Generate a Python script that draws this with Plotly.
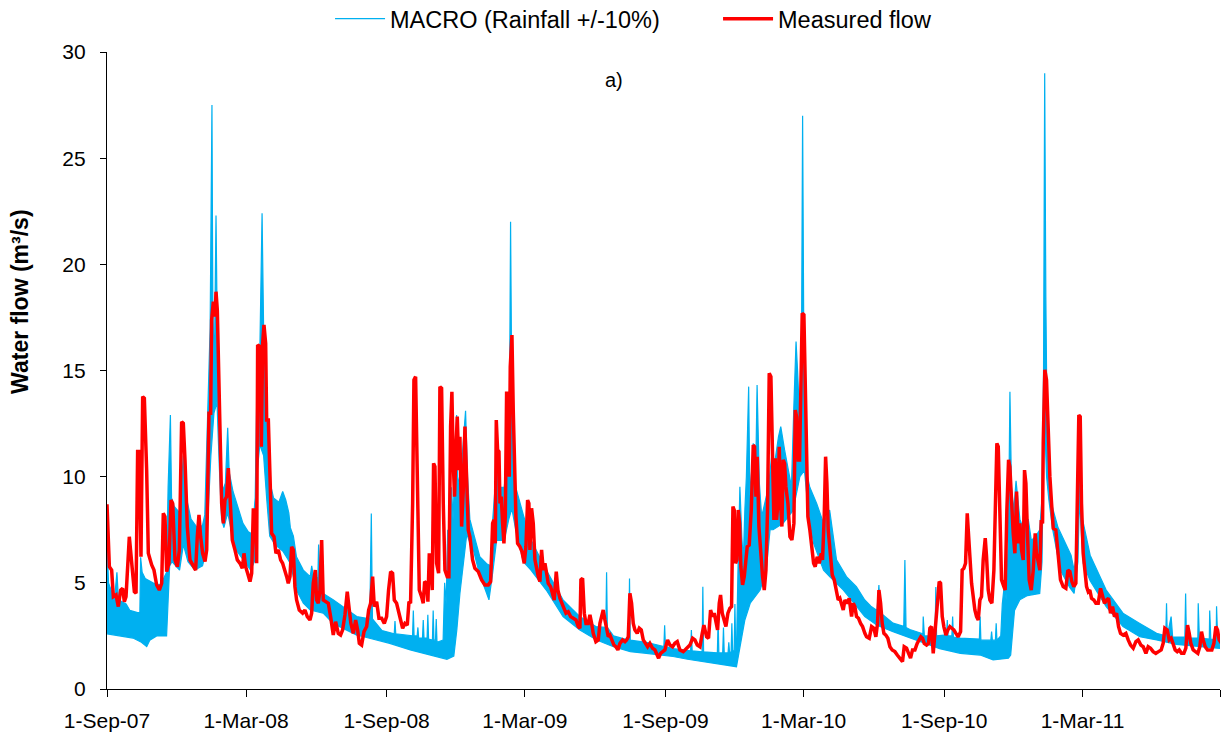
import pandas as pd
import plotly.graph_objects as go

START = pd.Timestamp("2007-09-01")
END = pd.Timestamp("2011-08-28")

# Measured flow (m3/s), sampled at days since 1 Sep 2007
meas_day = [
    0, 3.1, 6.1, 8.3, 11.8, 14.8, 17.9, 20.5, 22.7, 24.9, 29.2, 32.3, 35.8, 38, 40.1, 42.3, 44.5, 46.7, 48.9, 51.9,
    54.1, 58.5, 61.5, 65, 68.5, 71.6, 73.7, 75.9, 78.1, 81.1, 83.8, 86, 89, 92.1, 94.7, 97.7, 99.9, 102.1, 105.1, 108.6,
    113, 116, 118.2, 120.4, 122.6, 125.2, 128.3, 130.5, 133.5, 135.7, 137, 139.2, 141.4, 142.7, 144.4, 146.2, 147.9,
    150.1, 152.3, 154.4, 156.6, 158.8, 161, 164, 167.5, 170.6, 174.1, 177.1, 179.3, 181.5, 184.1, 187.2, 189.4, 191.5,
    193.7, 195.9, 197.2, 200.3, 202, 203.8, 205.5, 207.7, 209, 211.2, 213.4, 215.5, 218.6, 221.2, 224.3, 227.3, 229.9,
    233, 235.2, 237.3, 239.5, 241.7, 243.9,
    246, 248.2, 251.7, 256.1, 259.1, 262.2, 265.7, 267.9, 270, 272.7, 274.4, 276.6, 278.8, 281, 283.1, 286.2, 289.7,
    292.7, 296.2, 299.3, 302.8, 305.8, 308.4, 311.5, 314.5, 317.2, 319.3, 322.4, 325.5, 328.1, 330.3, 333.3, 336.4,
    339.9, 342.5, 345.1, 347.7, 349.9, 353, 356, 359.5, 363, 366, 368.6, 371.3, 373.9, 376.1, 379.1, 382.2, 384.8, 387,
    390, 393.1, 395.3, 397.4, 400.1, 401.8, 404, 406.2, 408.8, 411.8, 414, 415.8, 418.4, 420.1, 421.9, 423.6, 425.8,
    427.5, 429.3, 431.5, 434.1, 435.8, 438, 440.2, 442.4, 445.4, 447.6, 449.8, 451.5, 453.3, 455, 456.8, 458.5, 460.7,
    462, 464.2, 466.4, 468.6, 470.7, 472.9, 475.1, 478.6, 481.6, 486, 490.4,
    494.7, 499.1, 502.2, 504.8, 506.5, 508.3, 509.6, 511.3, 513.1, 514.4, 516.1, 517.9, 519.6, 521.4, 523.1, 524.9,
    526.6, 527.9, 530.1, 531.8, 533.6, 535.3, 537.5, 540.6, 543.2, 546.2, 548.4, 550.6, 552.3, 553.6, 555.8, 558,
    560.2, 562.4, 564.6, 566.7, 568.9, 571.1, 573.3, 575.5, 577.6, 580.7, 583.3, 585.5, 588.1, 590.3, 592.9, 595.5,
    598.2, 600.8, 603.8, 606.9, 610.4, 613.9, 616.9, 619.1, 620.4, 622.6, 624.8, 627, 630, 632.2, 634.4, 636.5, 640,
    643.1, 645.3, 647.5, 649.6, 651.8, 654, 656.2, 658.4, 661, 663.6, 666.2, 668.8, 671.5, 674.9, 678, 680.2, 682.4,
    684.5, 686.7, 688.9, 691.1, 694.1, 696.8, 699.4, 702, 704.6, 707.7, 710.7, 714.2, 717.3, 719.4, 722.1, 724.7,
    727.3, 730.3, 733.8, 736.9, 740.4,
    743.4, 746.5, 750, 754.4, 758.7, 763.1, 766.6, 769.6, 772.7, 776.2, 779.2, 781.4, 784.9, 787.5, 790.1, 792.7,
    794.9, 797.1, 799.3, 801.5, 803.2, 805.4, 807.6, 810.2, 812.8, 815.4, 817.6, 819.4, 821.1, 822.8, 824.6, 826.3,
    828.1, 829.8, 832, 834.2, 836.4, 838.1, 840.7, 843.4, 846, 847.7, 849.5, 851.2, 853.4, 855.6, 858.2, 860.4, 862.6,
    864.7, 866.9, 869.1, 871.3, 873, 874.8, 876.5, 878.3, 880, 881.8, 883.5, 885.2, 887, 888.7, 891.4, 894, 896.6,
    899.2, 901, 902.7, 904.9, 906.6, 908.4, 910.1, 912.3, 914, 915.8, 917.5, 920.1, 922.8, 925, 927.1, 929.7, 932.4,
    935, 936.7, 938.9, 940.7, 942.4, 944.1, 946.3, 949.4, 952, 955.1, 957.2, 959.4, 961.2, 963.8, 966, 969, 971.6,
    974.7, 976.9, 979, 981.2, 983.8, 986.5, 989.1, 992.1,
    994.3, 997.8, 1000.9, 1003.9, 1006.5, 1008.7, 1010.5, 1012.7, 1014.8, 1017, 1019.6, 1022.2, 1024.9, 1027.9,
    1031.4, 1034.5, 1038, 1041.4, 1043.6, 1046.7, 1049.3, 1051.9, 1054.5, 1057.6, 1060.6, 1063.3, 1065.4, 1067.6,
    1069.8, 1072.9, 1075.5, 1077.2, 1079.4, 1081.6, 1083.8, 1086.8, 1089.4, 1091.2, 1093.4, 1095.5, 1098.2, 1100.8,
    1103.4, 1106, 1108.6, 1111.3, 1114.3, 1117.4, 1119.5, 1121.7, 1123.9, 1126.1, 1127.8, 1129.6, 1131.8, 1133.9,
    1136.1, 1138.3, 1140.5, 1142.7, 1144.8, 1147, 1149.7, 1151.4, 1153.6, 1155.8, 1158.4, 1161, 1162.7, 1164.9,
    1166.7, 1168.9, 1171, 1174.1, 1175.8, 1178, 1180.2, 1181.9, 1184.1, 1186.3, 1188.5, 1190.7, 1192.8, 1195,
    1197.2, 1199.4, 1201.1, 1202.9, 1205.1, 1207.2, 1209.9, 1212.5, 1215.1, 1216.8, 1219.5, 1221.2, 1223, 1224.7,
    1225.6, 1227.7, 1229.9, 1232.1, 1234.3, 1236.5, 1238.7, 1242.1, 1245.2, 1248.2, 1251.7, 1255.2, 1257.9, 1260.5,
    1263.1, 1265.7, 1268.3, 1270.5, 1272.2, 1274, 1275.7, 1277.9, 1280.1, 1282.3, 1284.5, 1286.6, 1288.8, 1291.9,
    1294.5, 1297.6, 1300.6, 1303.2, 1305.8, 1308.5, 1311.1, 1313.7, 1316.3, 1318.9, 1321.6, 1324.2, 1326.8, 1330.3,
    1333.8, 1336.8, 1339.9, 1343.4, 1346.9, 1349.9, 1353.4, 1356.5, 1360, 1363, 1366.1, 1369.5, 1373, 1376.5, 1380,
    1382.6, 1384.8, 1387.9, 1390.5, 1393.1, 1395.7, 1398.3, 1401, 1403.6, 1406.6, 1409.7, 1412.3, 1414.5, 1416.7,
    1418.8, 1421.9, 1424.9, 1428, 1430.6, 1432.8, 1435, 1437.6, 1440.7, 1443.7, 1446.3, 1449, 1451.6, 1453.8, 1455.9,
    1459,
]
meas_flow = [
    8.7, 5.76, 5.6, 4.35, 4.43, 3.88, 4.66, 4.74, 4.11, 4.35, 7.17, 5.92, 4.58, 4.51, 11.18, 11.18, 6.23, 13.77, 13.69,
    10.31, 6.39, 5.84, 5.6, 4.9, 4.66, 4.98, 8.27, 8.12, 5.53, 5.92, 8.9, 8.74, 6.08, 5.76, 6.55, 12.59, 12.51, 10.79,
    7.65, 6.08, 5.76, 5.6, 7.17, 8.2, 7.17, 6.39, 6.0, 6.55, 12.99, 12.99, 17.38, 18.24, 17.54, 18.71, 17.85, 14.56,
    11.26, 8.74, 7.8, 8.9, 9.06, 10.4, 9.06, 7.02, 6.55, 6.08, 5.92, 5.68, 6.39, 5.76, 5.45, 5.06, 5.45, 8.43, 8.43,
    5.92, 16.2, 16.13, 11.41, 16.28, 17.15, 16.28, 12.67, 12.67, 10.0, 7.33, 7.17, 6.39, 6.55, 6.08, 5.92, 5.6, 5.29,
    4.98, 5.29, 6.7, 6.55,
    4.82, 4.19, 3.72, 3.57, 3.72, 3.41, 3.25, 3.57, 4.98, 5.6, 4.19, 4.04, 4.66, 7.02, 4.19, 4.11, 4.04, 3.41, 2.54,
    3.17, 2.62, 2.54, 2.78, 3.49, 4.58, 3.72, 3.09, 2.62, 3.25, 2.78, 2.15, 2.07, 2.7, 2.94, 3.72, 4.04, 5.29, 3.88,
    4.11, 3.33, 3.33, 3.09, 3.41, 4.66, 5.53, 5.45, 4.19, 4.04, 3.57, 3.25, 2.86, 3.09, 3.01, 4.11, 4.04, 8.74, 14.56,
    14.71, 9.06, 4.66, 4.35, 4.04, 5.06, 4.98, 4.11, 6.39, 6.08, 4.66, 10.63, 10.47, 5.92, 5.45, 14.24, 14.16, 8.74,
    5.6, 5.29, 5.29, 12.36, 14.0, 10.63, 9.06, 11.26, 12.83, 10.31, 11.88, 7.65, 9.37, 12.36, 10.31, 7.49, 7.17, 6.08,
    5.68, 5.53, 5.14,
    4.9, 4.9, 5.06, 7.8, 7.96, 6.86, 12.67, 11.26, 11.18, 8.74, 9.06, 7.8, 6.86, 8.12, 13.93, 13.93, 10.0, 15.18,
    16.67, 13.14, 9.69, 8.12, 6.86, 6.7, 6.47, 5.92, 6.7, 8.9, 8.74, 6.55, 8.51, 7.8, 6.08, 5.6, 5.29, 5.06, 6.55, 5.6,
    5.92, 5.45, 4.98, 4.82, 4.43, 4.19, 5.53, 4.66, 4.27, 4.04, 3.8, 3.57, 3.64, 3.41, 3.33, 3.25, 2.94, 2.86, 5.14,
    5.21, 3.57, 3.09, 3.09, 3.49, 3.09, 2.62, 2.23, 2.31, 3.09, 3.41, 3.72, 3.25, 2.78, 2.46, 2.54, 2.31, 2.07, 1.99,
    1.84, 2.15, 2.31, 2.23, 2.31, 2.46, 4.51, 4.04, 3.09, 2.78, 2.62, 2.86, 2.78, 2.31, 2.15, 1.99, 2.15, 1.92, 1.84,
    1.68, 1.45, 1.68, 1.76, 1.84, 2.31, 2.07, 1.99,
    2.15, 2.23, 1.84, 1.76, 1.92, 2.07, 2.39, 2.31, 2.07, 1.99, 2.62, 3.01, 2.46, 2.39, 3.72, 3.41, 3.57, 3.09, 2.78,
    4.04, 4.43, 3.57, 3.25, 2.94, 3.57, 3.8, 3.88, 8.59, 8.43, 5.92, 6.08, 8.43, 7.8, 5.76, 4.9, 5.29, 6.08, 6.7, 6.78,
    8.43, 11.49, 11.41, 9.06, 10.94, 7.65, 6.39, 5.29, 4.66, 5.6, 8.43, 14.87, 14.71, 10.94, 7.96, 10.87, 7.96, 8.74,
    11.41, 8.74, 7.65, 10.79, 10.63, 9.53, 8.74, 7.17, 7.02, 7.8, 13.14, 12.83, 10.79, 10.79, 15.03, 17.69, 17.62,
    15.03, 10.94, 8.12, 7.49, 6.7, 5.92, 5.76, 6.23, 5.92, 6.39, 6.08, 8.12, 10.94, 9.69, 7.49, 6.55, 5.37, 5.14, 4.66,
    4.19, 4.27, 4.04, 3.72, 4.19, 4.04, 4.27, 3.41, 4.04, 3.88, 3.41, 3.33, 3.09, 2.94, 2.62,
    2.46, 2.39, 2.94, 2.86, 2.46, 3.09, 4.66, 4.04, 3.09, 2.62, 2.54, 2.39, 1.99, 1.84, 1.76, 1.6, 1.45, 1.29, 1.99,
    1.92, 1.68, 1.45, 1.84, 1.84, 2.15, 2.31, 2.46, 2.39, 2.15, 2.07, 2.15, 2.86, 2.94, 1.68, 2.62, 3.72, 5.06, 4.98,
    3.41, 2.94, 2.54, 2.78, 2.94, 2.86, 2.78, 2.62, 2.46, 2.7, 5.6, 5.68, 5.92, 8.27, 7.49, 6.23, 4.98, 4.19, 3.72,
    3.41, 3.25, 4.19, 4.35, 6.08, 7.1, 6.23, 4.66, 4.19, 4.04, 5.6, 8.43, 11.57, 11.41, 7.17, 5.14, 4.82, 4.66, 8.43,
    10.79, 10.47, 8.43, 7.33, 6.39, 9.3, 6.86, 7.8, 6.55, 6.08, 10.31, 9.69, 7.17, 5.14, 4.66, 5.6, 7.33, 6.39, 5.92,
    5.6, 7.96, 7.8,
    11.57, 15.03, 14.56, 11.88, 10.0, 8.74, 7.57, 7.49, 6.08, 5.14, 4.82, 4.74, 5.6, 5.53, 5.06, 4.82, 4.98, 9.53,
    12.9, 12.83, 8.74, 6.39, 5.45, 4.82, 4.58, 4.66, 4.27, 4.19, 4.04, 4.04, 4.74, 4.43, 4.04, 4.19, 4.27, 3.57, 3.88,
    3.41, 3.57, 2.94, 2.62, 2.54, 2.62, 2.31, 2.07, 1.92, 2.23, 2.31, 2.07, 1.99, 1.68, 1.99, 1.92, 1.76, 1.68, 1.76,
    1.84, 2.15, 2.86, 2.78, 2.31, 2.39, 2.07, 1.84, 1.76, 1.84, 1.68, 1.68, 1.92, 3.01, 2.62, 2.15, 1.84, 1.76, 1.68,
    1.99, 2.7, 2.31, 1.99, 1.84, 1.84, 1.84, 2.15, 2.94, 2.78, 2.31, 2.15,
]

# MACRO simulations with rainfall +/-10%: lower and upper bound of the run ensemble
macro_lo_day = [
    0, 20, 34, 45, 52, 56, 65, 78, 80, 82, 85, 95, 100, 106, 115, 125, 130, 133, 136, 140, 144, 147, 150, 153, 158,
    163, 170, 180, 188, 193, 196, 200, 205, 209, 213, 220, 230, 237, 240, 248, 257, 266, 283, 296, 309, 327, 336, 370,
    397, 431, 445, 454, 458, 462, 466, 471, 475, 480, 487, 495, 500, 505, 510, 520, 526, 530, 535, 545, 555, 575, 597,
    619, 641, 663, 685, 706, 741, 760, 790, 810, 824, 831, 835, 842, 848, 855, 863, 868, 872, 885, 898, 907, 913, 918,
    925, 938, 946, 964, 992, 1000, 1008, 1029, 1051, 1072, 1090, 1117, 1143, 1160, 1180, 1183, 1185, 1188, 1195, 1205,
    1221, 1224, 1226, 1228, 1230, 1233, 1238, 1248, 1260, 1266, 1271, 1273, 1276, 1278, 1287, 1308, 1330, 1352, 1374,
    1400, 1460,
]
macro_lo = [
    2.6, 2.5, 2.4, 2.2, 2.0, 2.3, 2.5, 2.5, 4.5, 5.8, 6.0, 5.6, 6.8, 6.0, 5.6, 5.8, 6.5, 9.0, 11.0, 13.0, 13.5, 10.5,
    8.0, 7.6, 8.3, 7.4, 6.5, 6.0, 5.6, 6.0, 10.0, 11.5, 11.0, 9.0, 7.2, 6.8, 6.5, 6.1, 5.9, 4.66, 4.04, 3.72, 3.57,
    3.09, 2.86, 2.54, 2.46, 2.15, 1.84, 1.53, 1.4, 1.55, 2.8, 4.5, 5.8, 7.3, 6.9, 6.5, 5.5, 4.66, 4.2, 5.5, 7.0, 7.0,
    8.0, 8.5, 7.5, 6.0, 5.6, 4.66, 3.41, 2.78, 2.31, 1.99, 1.76, 1.68, 1.53, 1.4, 1.25, 1.15, 1.05, 2.46, 3.25, 4.04,
    4.35, 4.66, 5.6, 7.5, 7.5, 7.8, 8.4, 10.0, 10.3, 8.4, 6.86, 5.6, 5.29, 4.66, 3.41, 3.2, 3.0, 2.7, 2.4, 2.15, 1.9,
    1.68, 1.6, 1.37, 1.45, 1.6, 2.5, 3.7, 4.2, 4.4, 4.5, 6.0, 11.5, 12.0, 10.0, 8.9, 7.5, 5.6, 4.8, 4.5, 6.0, 9.0,
    7.0, 5.9, 5.1, 3.88, 2.94, 2.46, 2.31, 2.1, 1.9,
]
macro_hi_day = [
    0, 2, 6, 10, 13, 15, 25, 30, 40, 43, 44, 46, 50, 60, 70, 76, 78, 80, 83, 84.5, 88, 95, 100, 104, 110, 118, 125,
    128, 131, 135, 137.4, 138.5, 140.5, 142.7, 144, 146, 148, 151, 155, 158, 160, 165, 170, 178, 185, 190, 194, 197,
    199, 201, 203, 205, 207, 210, 213, 218, 225, 230, 234, 238, 240,
    244, 248, 257, 266, 268, 270, 276, 277, 279, 283, 296, 309, 327, 344, 346, 347.5, 360, 376, 377, 378, 400, 401,
    402, 406, 407, 408, 413, 414, 415, 419, 420, 421, 426, 427, 428, 430, 431, 432, 440, 442, 444, 446, 449, 451, 453,
    457.7, 459, 462, 465, 469.4, 472, 475, 480, 488, 497, 502, 505, 510, 514, 520, 525, 527, 528.3, 529.5, 532, 535,
    545, 554, 575, 597, 619, 640, 653, 654, 655, 663, 683, 684, 685, 706, 729, 730, 731, 741,
    764, 765, 766, 779, 780, 781, 799, 800, 801, 806, 807, 808, 813, 814, 815, 817, 818, 819, 821, 822, 823, 824, 826,
    828.5, 831, 833, 835, 837, 840, 841.5, 844, 846, 849, 851, 854, 857, 861, 866, 870, 874, 879, 882, 887, 892, 896,
    899, 902, 904, 907, 909, 910.6, 912, 914, 917, 920, 929, 938, 946, 955, 968, 981, 992,
    1000, 1008, 1010.5, 1012, 1029, 1043, 1044.5, 1046, 1051, 1068, 1068.5, 1070, 1084, 1085, 1086, 1099, 1100, 1101,
    1106, 1107, 1108, 1117, 1142, 1143, 1144, 1157, 1158, 1159, 1163, 1164, 1165, 1170, 1172, 1175, 1177, 1180, 1182,
    1184, 1187, 1190, 1195, 1200, 1206, 1210, 1216, 1221, 1224, 1226, 1227.5, 1229, 1231, 1233, 1238, 1245, 1250,
    1256, 1262, 1266, 1270, 1272, 1274, 1277, 1280, 1287, 1308, 1330, 1352, 1374, 1386, 1387, 1388, 1393, 1395, 1411,
    1412, 1413, 1428, 1428.5, 1430, 1443, 1443.5, 1445, 1452, 1452.5, 1454, 1460,
]
macro_hi = [
    7.0, 5.0, 4.6, 4.3, 5.5, 4.2, 4.0, 3.7, 3.6, 3.6, 6.2, 5.5, 5.2, 5.0, 4.9, 5.3, 5.5, 9.5, 12.9, 9.0, 8.6, 8.3, 11.0,
    9.0, 8.0, 7.6, 7.7, 8.2, 12.0, 17.0, 27.5, 18.0, 15.0, 22.3, 18.0, 14.0, 10.5, 9.3, 9.7, 12.3, 10.2, 9.3, 8.7, 7.8,
    7.4, 7.3, 9.0, 16.0, 13.5, 17.5, 22.4, 17.0, 15.0, 12.0, 9.8, 9.0, 8.8, 9.3, 8.9, 8.3, 7.6,
    7.2, 6.23, 5.6, 5.29, 5.8, 5.3, 5.2, 6.8, 5.0, 4.5, 4.2, 3.88, 3.41, 3.3, 8.27, 3.3, 2.75, 2.6, 3.2, 2.6, 2.5, 3.7,
    2.5, 2.5, 2.9, 2.4, 2.4, 3.25, 2.4, 2.4, 3.5, 2.35, 2.3, 3.7, 2.3, 2.3, 3.3, 2.2, 2.3, 5.0, 4.0, 7.5, 6.0, 9.5, 8.0,
    12.9, 10.0, 9.5, 11.0, 13.1, 10.0, 8.0, 7.3, 6.23, 5.9, 5.8, 8.0, 10.5, 9.5, 9.5, 11.5, 14.0, 22.0, 16.0, 12.0, 9.5,
    8.2, 7.1, 5.6, 4.2, 3.41, 2.94, 2.9, 5.5, 2.9, 2.5, 2.3, 5.2, 2.3, 2.2, 2.0, 3.0, 2.0, 1.9,
    1.8, 2.78, 1.8, 1.75, 4.82, 1.75, 1.7, 3.25, 1.7, 1.7, 2.9, 1.7, 1.7, 2.2, 1.7, 1.75, 3.1, 1.8, 1.8, 4.0, 1.8, 1.8,
    5.6, 9.53, 7.17, 6.08, 8.43, 10.0, 14.24, 9.06, 10.31, 11.57, 9.69, 14.32, 9.69, 8.12, 8.74, 9.53, 10.94, 10.63,
    11.88, 12.36, 11.26, 10.31, 9.53, 13.14, 16.36, 15.0, 12.5, 15.0, 27.0, 17.4, 12.7, 10.0, 9.5, 8.74, 7.8, 8.43,
    6.08, 5.29, 4.82, 4.19,
    3.9, 3.7, 4.9, 3.6, 3.1, 2.95, 6.08, 2.9, 2.8, 2.6, 3.41, 2.5, 2.5, 4.8, 2.5, 2.55, 3.25, 2.5, 2.5, 3.41, 2.45, 2.4,
    2.35, 3.41, 2.3, 2.3, 2.7, 2.3, 2.3, 3.1, 2.3, 2.5, 4.0, 5.0, 4.2, 7.0, 14.0, 9.5, 8.4, 9.8, 8.0, 7.5, 8.0, 7.0,
    7.2, 7.5, 9.0, 15.0, 29.0, 18.5, 11.0, 9.7, 8.5, 7.6, 7.2, 6.7, 6.3, 5.6, 6.5, 12.5, 9.5, 8.0, 7.5, 6.3, 4.66, 3.57,
    3.09, 2.62, 2.5, 4.04, 2.5, 3.41, 2.45, 2.45, 4.5, 2.4, 2.4, 4.04, 2.4, 2.35, 3.7, 2.35, 2.3, 3.9, 2.3, 2.2,
]

# Axis ticks
tick_dates = ["2007-09-01", "2008-03-01", "2008-09-01", "2009-03-01", "2009-09-01",
              "2010-03-01", "2010-09-01", "2011-03-01", "2011-08-28"]
tick_labels = ["1-Sep-07", "1-Mar-08", "1-Sep-08", "1-Mar-09", "1-Sep-09",
               "1-Mar-10", "1-Sep-10", "1-Mar-11", ""]
y_ticks = [0, 5, 10, 15, 20, 25, 30]

BLUE = "#00B0F0"
RED = "#FF0000"
FONT = "Liberation Sans, Arial, sans-serif"


def to_dates(days):
    return START + pd.to_timedelta(days, unit="D")


fig = go.Figure()

fig.add_trace(go.Scatter(
    x=to_dates(macro_lo_day), y=macro_lo, mode="lines",
    line=dict(color=BLUE, width=1.2), name="MACRO (Rainfall +/-10%)",
    showlegend=True,
))
fig.add_trace(go.Scatter(
    x=to_dates(macro_hi_day), y=macro_hi, mode="lines",
    line=dict(color=BLUE, width=1.2), fill="tonexty", fillcolor=BLUE,
    name="MACRO upper", showlegend=False,
))
fig.add_trace(go.Scatter(
    x=to_dates(meas_day), y=meas_flow, mode="lines",
    line=dict(color=RED, width=3.5), name="Measured flow",
))

fig.update_layout(
    width=1224, height=733,
    margin=dict(l=107, r=4, t=52, b=44, autoexpand=False),
    paper_bgcolor="white", plot_bgcolor="white",
    font=dict(family=FONT, size=21, color="black"),
    legend=dict(orientation="h", traceorder="normal", x=0.2004, xanchor="left", y=1.052,
                yanchor="middle", font=dict(size=23.5), itemwidth=50,
                entrywidth=323, entrywidthmode="pixels", bgcolor="rgba(0,0,0,0)"),
    xaxis=dict(
        range=[START, END], tickmode="array", tickvals=tick_dates, ticktext=tick_labels,
        showline=True, linecolor="black", linewidth=1.2, ticks="outside", ticklen=7,
        tickcolor="black", showgrid=False, zeroline=False, ticklabelstandoff=6,
    ),
    yaxis=dict(
        range=[0, 30], tickvals=y_ticks, showline=True, linecolor="black", linewidth=1.2,
        ticks="outside", ticklen=6, tickcolor="black", showgrid=False, zeroline=False,
        ticklabelstandoff=10,
    ),
    annotations=[
        dict(text="a)", xref="paper", yref="paper", x=0.4555, y=0.956, showarrow=False,
             font=dict(size=20), xanchor="center", yanchor="middle"),
        dict(text="<b>Water flow (m³/s)</b>", xref="paper", yref="paper", x=-0.078, y=0.608,
             textangle=-90, showarrow=False, font=dict(size=23), xanchor="center", yanchor="middle"),
    ],
)

fig.write_html("out.html")
